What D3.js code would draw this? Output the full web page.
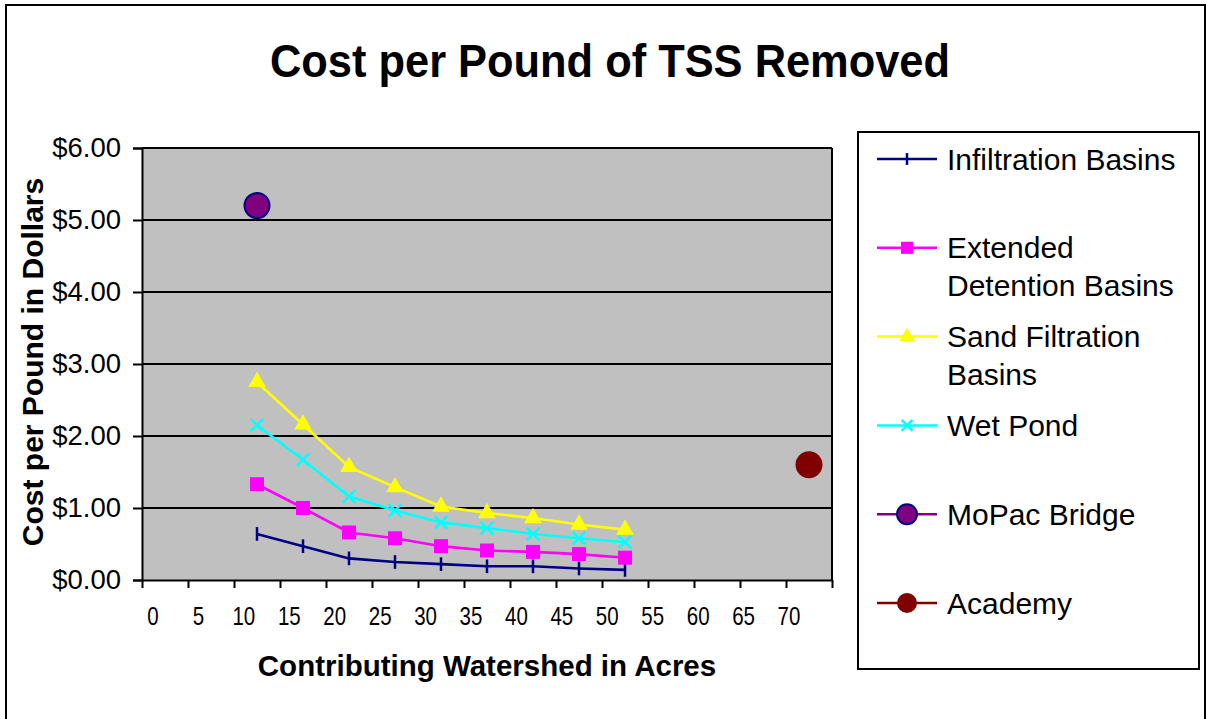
<!DOCTYPE html>
<html>
<head>
<meta charset="utf-8">
<script src="https://cdn.jsdelivr.net/npm/d3@7"></script>
<style>
    body { margin: 0; background: #fff; }
    text { font-family: "Liberation Sans", Arial, sans-serif; fill: #000; }
</style>
</head>
<body>
<div id="chart"></div>
<script>
// contributing watershed (acres) for the four BMP curves
const acres = [12.5, 17.5, 22.5, 27.5, 32.5, 37.5, 42.5, 47.5, 52.5];

// cost per pound of TSS removed ($)
const infiltrationBasins = [0.64, 0.47, 0.30, 0.25, 0.22, 0.19, 0.19, 0.16, 0.14];
const extendedDetention = [1.33, 1.00, 0.66, 0.58, 0.47, 0.41, 0.39, 0.36, 0.31];
const sandFiltration = [2.75, 2.16, 1.57, 1.29, 1.02, 0.93, 0.86, 0.77, 0.70];
const wetPond = [2.15, 1.67, 1.16, 0.965, 0.80, 0.72, 0.64, 0.58, 0.525];

// single sites
const mopacBridge = [{ acres: 12.5, cost: 5.20 }];
const academy = [{ acres: 72.5, cost: 1.60 }];

const xTickValues = [0, 5, 10, 15, 20, 25, 30, 35, 40, 45, 50, 55, 60, 65, 70, 75];
const xTickLabels = [0, 5, 10, 15, 20, 25, 30, 35, 40, 45, 50, 55, 60, 65, 70];
const yTickValues = [0, 1, 2, 3, 4, 5, 6];

const legendLabels = [
    ["Infiltration Basins"],
    ["Extended", "Detention Basins"],
    ["Sand Filtration", "Basins"],
    ["Wet Pond"],
    ["MoPac Bridge"],
    ["Academy"],
];

const width = 1207;
const height = 719;
const plot = { left: 142, right: 832, top: 148, bottom: 580 };

const svg = d3.select("#chart").append("svg").attr("width", width).attr("height", height);

// outer chart border
svg.append("rect")
    .attr("x", 6).attr("y", 5)
    .attr("width", 1199).attr("height", 730)
    .attr("fill", "#fff")
    .attr("stroke", "#000")
    .attr("stroke-width", 2);

const x = d3.scaleLinear().domain([0, 75]).range([plot.left, plot.right]);
const y = d3.scaleLinear().domain([0, 6]).range([plot.bottom, plot.top]);

// plot area
svg.append("rect")
    .attr("x", plot.left).attr("y", plot.top)
    .attr("width", plot.right - plot.left).attr("height", plot.bottom - plot.top)
    .attr("fill", "#c0c0c0");

// horizontal gridlines
svg.append("g")
    .selectAll("line")
    .data(yTickValues.filter(d => d > 0))
    .join("line")
    .attr("x1", plot.left).attr("x2", plot.right)
    .attr("y1", d => y(d)).attr("y2", d => y(d))
    .attr("stroke", "#000")
    .attr("stroke-width", 2);

// right edge of plot area
svg.append("line")
    .attr("x1", plot.right).attr("x2", plot.right)
    .attr("y1", plot.top).attr("y2", plot.bottom)
    .attr("stroke", "#000").attr("stroke-width", 2);

// Excel's "+" marker: the horizontal arm disappears into the line
const symbolTick = {
    draw(context, size) {
        const r = Math.sqrt(size) * 0.6;
        context.moveTo(0, -r);
        context.lineTo(0, r);
    },
};

const series = [
    { name: "Infiltration Basins", values: infiltrationBasins, color: "#000080", symbol: symbolTick, size: 130, stroke: true },
    { name: "Extended Detention Basins", values: extendedDetention, color: "#ff00ff", symbol: d3.symbolSquare, size: 196, stroke: false },
    { name: "Sand Filtration Basins", values: sandFiltration, color: "#ffff00", symbol: d3.symbolTriangle, size: 135, stroke: false },
    { name: "Wet Pond", values: wetPond, color: "#00ffff", symbol: d3.symbolX, size: 105, stroke: true },
];

const line = d3.line()
    .x((d, i) => x(acres[i]))
    .y(d => y(d));

const drawMarker = (sel, s, size) => {
    sel.attr("d", d3.symbol(s.symbol, size));
    if (s.stroke) {
        sel.attr("fill", "none").attr("stroke", s.color).attr("stroke-width", 2.5);
    } else {
        sel.attr("fill", s.color).attr("stroke", "none");
    }
};

series.forEach(s => {
    svg.append("path")
        .datum(s.values)
        .attr("d", line)
        .attr("fill", "none")
        .attr("stroke", s.color)
        .attr("stroke-width", 2.6);

    svg.append("g")
        .selectAll("path")
        .data(s.values)
        .join("path")
        .attr("transform", (d, i) => `translate(${x(acres[i])},${y(d)})`)
        .call(drawMarker, s, s.size);
});

svg.append("g")
    .selectAll("circle")
    .data(mopacBridge)
    .join("circle")
    .attr("cx", d => x(d.acres)).attr("cy", d => y(d.cost))
    .attr("r", 12.5)
    .attr("fill", "#800080")
    .attr("stroke", "#000080")
    .attr("stroke-width", 2);

svg.append("g")
    .selectAll("circle")
    .data(academy)
    .join("circle")
    .attr("cx", d => x(d.acres)).attr("cy", d => y(d.cost))
    .attr("r", 13.5)
    .attr("fill", "#800000");

// y axis
const yAxis = svg.append("g")
    .attr("transform", `translate(${plot.left},0)`)
    .call(d3.axisLeft(y).tickValues(yTickValues).tickFormat(d3.format("$.2f")).tickSize(9).tickPadding(12));
yAxis.select(".domain").attr("stroke", "#000").attr("stroke-width", 2);
yAxis.selectAll(".tick line").attr("stroke", "#000").attr("stroke-width", 2);
yAxis.selectAll(".tick text")
    .attr("font-family", "Liberation Sans, Arial, sans-serif")
    .attr("font-size", 27.5)
    .attr("fill", "#000");

// x axis (ticks only, labels are drawn separately)
const xAxis = svg.append("g")
    .attr("transform", `translate(0,${plot.bottom})`)
    .call(d3.axisBottom(x).tickValues(xTickValues).tickFormat("").tickSize(8).tickSizeOuter(0));
xAxis.select(".domain").attr("stroke", "#000").attr("stroke-width", 2);
xAxis.selectAll(".tick line").attr("stroke", "#000").attr("stroke-width", 2);

// Excel puts the numbers a little to the right of each tick
const xLabel = d3.scaleLinear().domain([0, 70]).range([x(0) + 11, x(70) + 3]);
svg.append("g")
    .selectAll("text")
    .data(xTickLabels)
    .join("text")
    .attr("x", d => xLabel(d))
    .attr("y", 625)
    .attr("text-anchor", "middle")
    .attr("font-size", 25)
    .attr("transform", d => `translate(${xLabel(d)},0) scale(0.82,1) translate(${-xLabel(d)},0)`)
    .text(d => d);

// titles
svg.append("text")
    .attr("x", 610).attr("y", 77)
    .attr("text-anchor", "middle")
    .attr("font-size", 47)
    .attr("font-weight", "bold")
    .attr("textLength", 680)
    .attr("lengthAdjust", "spacingAndGlyphs")
    .text("Cost per Pound of TSS Removed");

svg.append("text")
    .attr("x", 487).attr("y", 676)
    .attr("text-anchor", "middle")
    .attr("font-size", 29.5)
    .attr("font-weight", "bold")
    .text("Contributing Watershed in Acres");

svg.append("text")
    .attr("transform", "translate(43,362) rotate(-90)")
    .attr("text-anchor", "middle")
    .attr("font-size", 30)
    .attr("font-weight", "bold")
    .text("Cost per Pound in Dollars");

// legend
const legend = svg.append("g");
legend.append("rect")
    .attr("x", 858).attr("y", 132)
    .attr("width", 341).attr("height", 537)
    .attr("fill", "#fff")
    .attr("stroke", "#000")
    .attr("stroke-width", 2);

const legendY = d3.scaleLinear().domain([0, 5]).range([159, 603]);
const legendItems = [
    ...series.map((s, i) => ({ ...s, label: legendLabels[i] })),
    { color: "#800080", circle: { fill: "#800080", stroke: "#000080" }, label: legendLabels[4] },
    { color: "#800000", circle: { fill: "#800000", stroke: "none" }, label: legendLabels[5] },
];

legendItems.forEach((item, i) => {
    const ly = legendY(i);
    const g = legend.append("g");
    g.append("line")
        .attr("x1", 877).attr("x2", 937)
        .attr("y1", ly).attr("y2", ly)
        .attr("stroke", item.color)
        .attr("stroke-width", 2.5);
    if (item.circle) {
        g.append("circle")
            .attr("cx", 907).attr("cy", ly).attr("r", 10)
            .attr("fill", item.circle.fill)
            .attr("stroke", item.circle.stroke)
            .attr("stroke-width", 2);
    } else {
        g.append("path")
            .attr("transform", `translate(907,${ly})`)
            .call(drawMarker, item, item.size * 0.75);
    }
    g.append("text")
        .attr("x", 947)
        .attr("y", ly + 10.5)
        .attr("font-size", 30)
        .selectAll("tspan")
        .data(item.label)
        .join("tspan")
        .attr("x", 947)
        .attr("dy", (d, j) => (j === 0 ? 0 : 38))
        .text(d => d);
});
</script>
</body>
</html>
